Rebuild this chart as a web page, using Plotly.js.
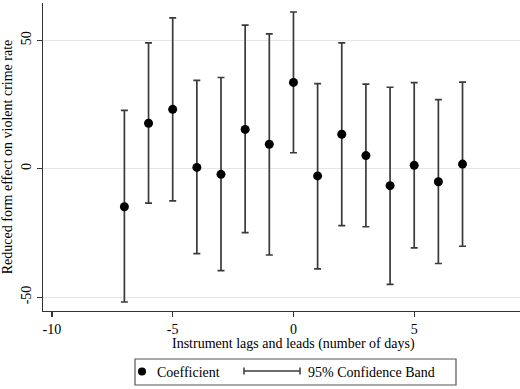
<!DOCTYPE html>
<html>
<head>
<meta charset="utf-8">
<script src="https://cdn.plot.ly/plotly-3.0.1.min.js"></script>
<style>html,body{margin:0;padding:0;background:#fff;overflow:hidden}#chart{width:520px;height:389px}</style>
</head>
<body>
<div id="chart"></div>
<script>
// Data
const lags = [-7, -6, -5, -4, -3, -2, -1, 0, 1, 2, 3, 4, 5, 6, 7];
const coef = [-14.8, 17.7, 23.1, 0.5, -2.2, 15.3, 9.5, 33.6, -2.8, 13.4, 5.1, -6.6, 1.3, -5.1, 1.8];
const upper = [22.7, 49.0, 58.7, 34.4, 35.5, 55.9, 52.5, 61.0, 33.1, 49.0, 32.9, 31.7, 33.5, 26.9, 33.7];
const lower = [-51.9, -13.4, -12.5, -33.1, -39.7, -24.9, -33.6, 6.2, -39.0, -22.2, -22.6, -45.0, -30.8, -36.9, -30.2];
const xTickVals = [-10, -5, 0, 5];
const xTickText = ["-10", "-5", "0", "5"];
const yTickVals = [-50, 0, 50];
const yTickText = ["-50", "0", "50"];

const errPlus = upper.map((u, i) => u - coef[i]);
const errMinus = coef.map((c, i) => c - lower[i]);

const FONT = "'Liberation Serif', 'DejaVu Serif', serif";
const L = 43, W = 520, PW = W - L;
const px = v => (v - L) / PW;           // pixel x -> paper x
const T = 3, B = 311, PH = B - T;
const py = v => (B - v) / PH;           // pixel y -> paper y

const traces = [
  {
    x: lags, y: coef, type: 'scatter', mode: 'markers',
    marker: {color: 'rgba(0,0,0,0)', size: 1},
    error_y: {type: 'data', symmetric: false, array: errPlus, arrayminus: errMinus,
              color: '#3a3a3a', thickness: 1.7, width: 3.5},
    hoverinfo: 'skip', showlegend: false
  },
  {
    x: lags, y: coef, type: 'scatter', mode: 'markers',
    marker: {color: '#000', size: 9},
    name: 'Coefficient', showlegend: false
  }
];

const layout = {
  width: 520, height: 389,
  margin: {l: L, r: 0, t: T, b: 389 - B, pad: 0},
  paper_bgcolor: '#fff', plot_bgcolor: '#fff',
  font: {family: FONT, size: 14, color: '#000'},
  showlegend: false,
  xaxis: {
    range: [-10.37, 9.38], tickvals: xTickVals, ticktext: xTickText,
    showgrid: false, zeroline: false, showline: true, linecolor: '#333', linewidth: 1.2,
    ticks: 'outside', ticklen: 5, tickwidth: 1.2, tickcolor: '#333',
    tickfont: {family: FONT, size: 14, color: '#000'}
  },
  yaxis: {
    range: [-55.4, 64.5], tickvals: yTickVals, ticktext: yTickText, tickangle: -90,
    showgrid: true, gridcolor: '#e6e6e6', gridwidth: 1.2,
    zeroline: false, showline: true, linecolor: '#333', linewidth: 1.2,
    ticks: 'outside', ticklen: 5, tickwidth: 1.2, tickcolor: '#333',
    tickfont: {family: FONT, size: 14, color: '#000'},
    title: {text: 'Reduced form effect on violent crime rate', font: {family: FONT, size: 14, color: '#000'}, standoff: 4}
  },
  annotations: [
    {text: 'Instrument lags and leads (number of days)', xref: 'x', x: 0, yref: 'paper', y: py(344),
     xanchor: 'center', yanchor: 'middle', showarrow: false, font: {family: FONT, size: 14, color: '#000'}},
    {text: 'Coefficient', xref: 'paper', x: px(155), yref: 'paper', y: py(372),
     xanchor: 'left', yanchor: 'middle', showarrow: false, font: {family: FONT, size: 14, color: '#000'}},
    {text: '95% Confidence Band', xref: 'paper', x: px(306), yref: 'paper', y: py(372),
     xanchor: 'left', yanchor: 'middle', showarrow: false, font: {family: FONT, size: 14, color: '#000'}}
  ],
  shapes: [
    {type: 'rect', xref: 'paper', yref: 'paper', x0: px(135), x1: px(456), y0: py(359), y1: py(385),
     line: {color: '#555', width: 1.2}, fillcolor: 'rgba(0,0,0,0)'},
    {type: 'circle', xref: 'paper', yref: 'paper', xsizemode: 'pixel', ysizemode: 'pixel',
     xanchor: px(142), yanchor: py(371.5), x0: -4, x1: 4, y0: -4, y1: 4,
     fillcolor: '#000', line: {color: '#000', width: 0}},
    {type: 'line', xref: 'paper', yref: 'paper', x0: px(244), x1: px(300), y0: py(371), y1: py(371),
     line: {color: '#3a3a3a', width: 1.5}},
    {type: 'line', xref: 'paper', yref: 'paper', x0: px(244), x1: px(244), y0: py(367.5), y1: py(374.5),
     line: {color: '#3a3a3a', width: 1.5}},
    {type: 'line', xref: 'paper', yref: 'paper', x0: px(300), x1: px(300), y0: py(367.5), y1: py(374.5),
     line: {color: '#3a3a3a', width: 1.5}}
  ]
};

Plotly.newPlot('chart', traces, layout, {displayModeBar: false, staticPlot: true});
</script>
</body>
</html>
